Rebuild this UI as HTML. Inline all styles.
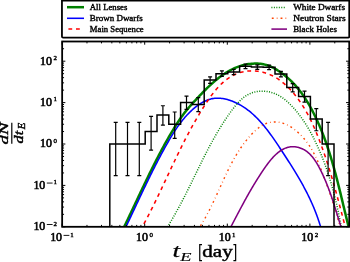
<!DOCTYPE html>
<html><head><meta charset="utf-8"><style>
html,body{margin:0;padding:0;background:#fff;}
body{width:350px;height:262px;position:relative;overflow:hidden;}
svg{position:absolute;left:0;top:0;will-change:transform;}
text{font-family:"Liberation Serif",serif;fill:#000;}
.tk{font-size:11.5px;font-weight:normal;stroke:#000;stroke-width:0.6px;}
.sp{font-size:6.9px;font-weight:normal;stroke:#000;stroke-width:0.4px;}
.lg{font-size:8.8px;font-weight:normal;stroke:#000;stroke-width:0.4px;}
.ml{font-size:13px;font-weight:bold;font-style:italic;}
.yl{font-size:13.5px;font-style:italic;stroke:#000;stroke-width:0.45px;}
.sub{font-size:8px;}
.xl{font-size:18.8px;stroke-width:0.25px;}
.xsub{font-size:13.5px;stroke-width:0.2px;}
.xb{font-size:17px;font-weight:normal;stroke:#000;stroke-width:0.45px;}
</style></head><body>
<svg width="350" height="262" viewBox="0 0 350 262">
<defs><clipPath id="pc"><rect x="62.15" y="41.5" width="287.10" height="185.30"/></clipPath></defs>
<g clip-path="url(#pc)">
<path d="M118.71,237.89 L119.38,236.56 L120.05,235.22 L120.71,233.89 L121.37,232.56 L122.03,231.22 L122.68,229.89 L123.34,228.55 L123.99,227.22 L124.64,225.88 L125.29,224.54 L125.93,223.20 L126.58,221.86 L127.22,220.53 L127.86,219.19 L128.50,217.85 L129.14,216.51 L129.78,215.16 L130.42,213.82 L131.06,212.48 L131.69,211.14 L132.33,209.80 L132.96,208.46 L133.60,207.12 L134.23,205.78 L134.86,204.43 L135.49,203.09 L136.13,201.75 L136.76,200.41 L137.39,199.07 L138.03,197.73 L138.66,196.39 L139.29,195.05 L139.92,193.71 L140.56,192.37 L141.19,191.03 L141.83,189.69 L142.47,188.35 L143.10,187.01 L143.74,185.67 L144.38,184.34 L145.02,183.00 L145.66,181.67 L146.30,180.33 L146.95,179.00 L147.59,177.67 L148.24,176.33 L148.89,175.00 L149.54,173.67 L150.20,172.34 L150.85,171.01 L151.51,169.69 L152.17,168.36 L152.83,167.04 L153.49,165.71 L154.16,164.39 L154.83,163.07 L155.50,161.75 L156.18,160.43 L156.85,159.11 L157.53,157.79 L158.22,156.48 L158.90,155.17 L159.59,153.85 L160.29,152.54 L160.98,151.24 L161.68,149.93 L162.39,148.62 L163.10,147.32 L163.81,146.02 L164.52,144.72 L165.24,143.42 L165.96,142.12 L166.69,140.83 L167.42,139.54 L168.16,138.25 L168.90,136.96 L169.65,135.67 L170.40,134.39 L171.15,133.11 L171.91,131.83 L172.68,130.55 L173.45,129.28 L174.22,128.01 L175.00,126.74 L175.79,125.48 L176.59,124.22 L177.40,122.97 L178.21,121.73 L179.03,120.50 L179.86,119.27 L180.70,118.06 L181.55,116.85 L182.41,115.66 L183.28,114.47 L184.16,113.30 L185.06,112.14 L185.97,110.99 L186.89,109.86 L187.82,108.74 L188.76,107.63 L189.71,106.53 L190.68,105.44 L191.65,104.35 L192.63,103.27 L193.62,102.19 L194.61,101.11 L195.61,100.03 L196.62,98.95 L197.63,97.87 L198.65,96.78 L199.67,95.70 L200.70,94.62 L201.74,93.54 L202.78,92.46 L203.83,91.38 L204.89,90.31 L205.95,89.25 L207.03,88.20 L208.11,87.15 L209.20,86.11 L210.29,85.08 L211.40,84.07 L212.51,83.06 L213.64,82.07 L214.77,81.09 L215.92,80.13 L217.07,79.19 L218.24,78.26 L219.41,77.35 L220.60,76.46 L221.80,75.59 L223.01,74.75 L224.23,73.92 L225.46,73.12 L226.71,72.34 L227.97,71.59 L229.24,70.87 L230.53,70.17 L231.83,69.50 L233.14,68.86 L234.47,68.25 L235.81,67.68 L237.16,67.14 L238.54,66.63 L239.92,66.15 L241.32,65.71 L242.74,65.31 L244.17,64.95 L245.62,64.62 L247.09,64.34 L248.56,64.09 L250.05,63.89 L251.54,63.74 L253.04,63.63 L254.54,63.57 L256.04,63.56 L257.53,63.60 L259.02,63.69 L260.50,63.84 L261.97,64.04 L263.42,64.30 L264.86,64.62 L266.28,65.00 L267.68,65.44 L269.06,65.93 L270.42,66.48 L271.77,67.08 L273.09,67.73 L274.39,68.41 L275.68,69.14 L276.95,69.91 L278.21,70.70 L279.45,71.53 L280.67,72.38 L281.88,73.25 L283.08,74.14 L284.26,75.06 L285.42,75.99 L286.57,76.94 L287.71,77.92 L288.82,78.91 L289.92,79.91 L291.00,80.94 L292.07,81.98 L293.11,83.04 L294.14,84.12 L295.15,85.21 L296.14,86.32 L297.10,87.44 L298.05,88.58 L298.98,89.73 L299.90,90.89 L300.79,92.07 L301.67,93.26 L302.53,94.46 L303.38,95.68 L304.20,96.90 L305.02,98.13 L305.82,99.38 L306.60,100.63 L307.37,101.89 L308.13,103.16 L308.88,104.44 L309.61,105.72 L310.33,107.01 L311.04,108.31 L311.74,109.61 L312.43,110.92 L313.11,112.23 L313.78,113.55 L314.44,114.87 L315.09,116.19 L315.73,117.52 L316.37,118.86 L316.99,120.20 L317.60,121.54 L318.21,122.89 L318.81,124.24 L319.40,125.59 L319.98,126.95 L320.55,128.32 L321.11,129.68 L321.67,131.05 L322.22,132.43 L322.76,133.80 L323.29,135.18 L323.82,136.57 L324.34,137.95 L324.85,139.34 L325.35,140.73 L325.85,142.13 L326.34,143.53 L326.83,144.93 L327.31,146.33 L327.78,147.74 L328.25,149.15 L328.71,150.56 L329.17,151.97 L329.62,153.39 L330.06,154.81 L330.50,156.23 L330.93,157.65 L331.36,159.08 L331.79,160.50 L332.21,161.93 L332.62,163.36 L333.03,164.79 L333.44,166.22 L333.84,167.66 L334.24,169.09 L334.63,170.53 L335.03,171.97 L335.41,173.41 L335.80,174.85 L336.18,176.29 L336.55,177.73 L336.93,179.17 L337.30,180.61 L337.67,182.06 L338.04,183.50 L338.40,184.95 L338.76,186.39 L339.12,187.84 L339.48,189.28 L339.84,190.73 L340.19,192.17 L340.55,193.62 L340.90,195.07 L341.25,196.51 L341.60,197.96 L341.94,199.40 L342.29,200.84 L342.64,202.29 L342.99,203.73 L343.33,205.17 L343.68,206.61 L344.02,208.06 L344.37,209.49 L344.72,210.93 L345.06,212.37 L345.41,213.81 L345.76,215.24 L346.11,216.67 L346.46,218.11 L346.81,219.54 L347.16,220.97 L347.51,222.39 L347.87,223.82 L348.22,225.24 L348.58,226.66 L348.94,228.08 L349.30,229.50 L349.67,230.91 L350.03,232.33 L350.40,233.74 L350.77,235.14 L351.15,236.55 L351.53,237.95 L351.91,239.35" fill="none" stroke="#008000" stroke-width="2.5"/>
<path d="M121.73,235.75 L122.25,234.67 L122.77,233.59 L123.29,232.51 L123.80,231.43 L124.32,230.35 L124.84,229.27 L125.35,228.19 L125.86,227.11 L126.38,226.03 L126.89,224.95 L127.40,223.87 L127.91,222.79 L128.42,221.72 L128.93,220.64 L129.43,219.56 L129.94,218.48 L130.45,217.41 L130.95,216.33 L131.46,215.25 L131.96,214.18 L132.47,213.10 L132.97,212.03 L133.48,210.95 L133.98,209.88 L134.49,208.80 L134.99,207.73 L135.49,206.66 L136.00,205.58 L136.50,204.51 L137.00,203.44 L137.51,202.37 L138.01,201.30 L138.52,200.23 L139.02,199.16 L139.53,198.09 L140.03,197.02 L140.54,195.95 L141.04,194.88 L141.55,193.81 L142.05,192.74 L142.56,191.68 L143.07,190.61 L143.58,189.54 L144.09,188.48 L144.60,187.41 L145.11,186.35 L145.62,185.29 L146.13,184.22 L146.65,183.16 L147.16,182.10 L147.68,181.04 L148.20,179.98 L148.71,178.92 L149.23,177.86 L149.75,176.80 L150.27,175.74 L150.80,174.68 L151.32,173.62 L151.85,172.57 L152.38,171.51 L152.90,170.46 L153.43,169.40 L153.97,168.35 L154.50,167.30 L155.04,166.25 L155.57,165.20 L156.11,164.15 L156.65,163.10 L157.20,162.05 L157.74,161.00 L158.29,159.95 L158.84,158.91 L159.39,157.86 L159.94,156.82 L160.49,155.77 L161.05,154.73 L161.61,153.69 L162.17,152.64 L162.74,151.60 L163.30,150.56 L163.87,149.53 L164.45,148.49 L165.02,147.45 L165.60,146.42 L166.18,145.38 L166.76,144.35 L167.34,143.31 L167.93,142.28 L168.52,141.25 L169.12,140.22 L169.72,139.20 L170.32,138.17 L170.93,137.15 L171.55,136.13 L172.16,135.12 L172.79,134.11 L173.42,133.10 L174.06,132.09 L174.70,131.10 L175.35,130.10 L176.01,129.11 L176.68,128.13 L177.35,127.15 L178.03,126.18 L178.72,125.21 L179.42,124.25 L180.13,123.30 L180.85,122.35 L181.58,121.41 L182.32,120.48 L183.07,119.56 L183.83,118.64 L184.60,117.74 L185.39,116.84 L186.18,115.95 L186.99,115.07 L187.81,114.20 L188.64,113.34 L189.49,112.49 L190.35,111.65 L191.22,110.82 L192.11,110.01 L193.02,109.20 L193.93,108.41 L194.86,107.64 L195.80,106.88 L196.76,106.15 L197.73,105.44 L198.71,104.74 L199.70,104.08 L200.70,103.44 L201.72,102.83 L202.75,102.25 L203.79,101.69 L204.84,101.18 L205.90,100.70 L206.97,100.25 L208.05,99.84 L209.14,99.47 L210.24,99.15 L211.35,98.86 L212.47,98.63 L213.59,98.43 L214.73,98.29 L215.87,98.20 L217.03,98.15 L218.18,98.15 L219.34,98.20 L220.51,98.29 L221.67,98.42 L222.84,98.59 L224.00,98.79 L225.17,99.03 L226.32,99.30 L227.47,99.61 L228.62,99.94 L229.75,100.30 L230.88,100.69 L231.99,101.10 L233.09,101.53 L234.18,101.98 L235.26,102.45 L236.32,102.94 L237.37,103.45 L238.41,103.99 L239.44,104.53 L240.46,105.10 L241.46,105.69 L242.45,106.29 L243.43,106.91 L244.40,107.55 L245.36,108.21 L246.31,108.88 L247.25,109.56 L248.18,110.27 L249.10,110.98 L250.01,111.72 L250.90,112.46 L251.79,113.22 L252.67,114.00 L253.54,114.78 L254.41,115.58 L255.26,116.40 L256.10,117.22 L256.94,118.06 L257.77,118.90 L258.59,119.76 L259.40,120.63 L260.20,121.51 L261.00,122.40 L261.79,123.30 L262.57,124.21 L263.35,125.12 L264.11,126.05 L264.88,126.98 L265.63,127.92 L266.38,128.86 L267.12,129.82 L267.86,130.78 L268.59,131.74 L269.32,132.71 L270.04,133.69 L270.76,134.67 L271.47,135.66 L272.18,136.65 L272.88,137.64 L273.58,138.64 L274.27,139.64 L274.96,140.64 L275.65,141.65 L276.33,142.65 L277.01,143.66 L277.68,144.67 L278.36,145.68 L279.02,146.69 L279.69,147.70 L280.36,148.71 L281.02,149.72 L281.68,150.72 L282.34,151.73 L282.99,152.73 L283.65,153.74 L284.30,154.74 L284.95,155.74 L285.60,156.74 L286.25,157.73 L286.89,158.73 L287.53,159.72 L288.17,160.72 L288.81,161.71 L289.44,162.71 L290.07,163.70 L290.70,164.69 L291.33,165.69 L291.95,166.68 L292.57,167.67 L293.19,168.67 L293.81,169.66 L294.42,170.65 L295.03,171.65 L295.63,172.65 L296.23,173.64 L296.83,174.64 L297.43,175.64 L298.02,176.64 L298.61,177.64 L299.20,178.65 L299.78,179.65 L300.36,180.66 L300.93,181.67 L301.50,182.68 L302.07,183.69 L302.63,184.71 L303.19,185.73 L303.74,186.75 L304.29,187.77 L304.84,188.80 L305.38,189.83 L305.92,190.86 L306.45,191.89 L306.98,192.93 L307.51,193.98 L308.03,195.02 L308.54,196.07 L309.05,197.13 L309.56,198.19 L310.06,199.25 L310.56,200.31 L311.05,201.39 L311.53,202.46 L312.02,203.54 L312.49,204.63 L312.96,205.72 L313.43,206.81 L313.89,207.91 L314.34,209.02 L314.79,210.13 L315.24,211.25 L315.67,212.37 L316.11,213.50 L316.53,214.63 L316.95,215.77 L317.37,216.92 L317.78,218.07 L318.18,219.23 L318.58,220.39 L318.97,221.57 L319.35,222.75 L319.73,223.93 L320.10,225.13 L320.47,226.33 L320.83,227.53 L321.18,228.75 L321.53,229.97 L321.87,231.20 L322.20,232.44 L322.52,233.69 L322.84,234.95 L323.16,236.21" fill="none" stroke="#0000ff" stroke-width="1.55"/>
<path d="M136.45,237.11 L137.18,235.85 L137.90,234.60 L138.62,233.34 L139.34,232.09 L140.04,230.84 L140.75,229.58 L141.44,228.33 L142.14,227.08 L142.82,225.82 L143.50,224.57 L144.18,223.32 L144.85,222.06 L145.52,220.81 L146.19,219.56 L146.85,218.31 L147.50,217.05 L148.15,215.80 L148.80,214.55 L149.44,213.30 L150.08,212.05 L150.72,210.80 L151.35,209.55 L151.98,208.30 L152.60,207.05 L153.22,205.80 L153.84,204.55 L154.46,203.30 L155.07,202.05 L155.69,200.80 L156.29,199.55 L156.90,198.30 L157.51,197.05 L158.11,195.81 L158.71,194.56 L159.31,193.31 L159.90,192.06 L160.50,190.82 L161.09,189.57 L161.68,188.32 L162.27,187.08 L162.86,185.83 L163.45,184.58 L164.04,183.34 L164.62,182.09 L165.21,180.85 L165.79,179.60 L166.38,178.36 L166.96,177.12 L167.55,175.87 L168.13,174.63 L168.72,173.39 L169.30,172.14 L169.88,170.90 L170.47,169.66 L171.06,168.42 L171.64,167.18 L172.23,165.93 L172.82,164.69 L173.41,163.45 L174.00,162.21 L174.59,160.97 L175.18,159.73 L175.78,158.50 L176.37,157.26 L176.97,156.02 L177.57,154.78 L178.17,153.54 L178.78,152.31 L179.38,151.07 L179.99,149.83 L180.60,148.60 L181.21,147.36 L181.83,146.12 L182.45,144.89 L183.07,143.65 L183.70,142.42 L184.33,141.19 L184.96,139.95 L185.59,138.72 L186.23,137.49 L186.88,136.25 L187.52,135.02 L188.17,133.79 L188.83,132.56 L189.49,131.33 L190.15,130.10 L190.82,128.87 L191.49,127.64 L192.17,126.41 L192.85,125.18 L193.53,123.95 L194.22,122.72 L194.92,121.50 L195.62,120.27 L196.33,119.04 L197.04,117.82 L197.76,116.59 L198.49,115.37 L199.22,114.14 L199.95,112.92 L200.70,111.69 L201.45,110.47 L202.20,109.25 L202.96,108.03 L203.73,106.80 L204.51,105.58 L205.29,104.37 L206.08,103.16 L206.88,101.95 L207.69,100.75 L208.50,99.55 L209.33,98.37 L210.16,97.19 L211.00,96.03 L211.86,94.88 L212.72,93.74 L213.59,92.62 L214.48,91.51 L215.38,90.42 L216.29,89.34 L217.21,88.29 L218.14,87.26 L219.08,86.24 L220.04,85.25 L221.01,84.29 L222.00,83.34 L223.00,82.43 L224.01,81.54 L225.04,80.68 L226.08,79.85 L227.14,79.05 L228.22,78.28 L229.30,77.54 L230.41,76.84 L231.53,76.17 L232.67,75.54 L233.83,74.95 L235.01,74.39 L236.20,73.88 L237.41,73.40 L238.64,72.97 L239.88,72.58 L241.14,72.23 L242.41,71.92 L243.70,71.65 L245.00,71.42 L246.30,71.23 L247.62,71.08 L248.94,70.98 L250.27,70.91 L251.60,70.88 L252.93,70.89 L254.27,70.95 L255.60,71.04 L256.94,71.17 L258.27,71.34 L259.60,71.55 L260.93,71.79 L262.25,72.08 L263.56,72.41 L264.86,72.77 L266.15,73.17 L267.43,73.62 L268.70,74.09 L269.95,74.61 L271.19,75.17 L272.41,75.76 L273.62,76.38 L274.82,77.04 L276.00,77.73 L277.17,78.46 L278.32,79.21 L279.46,80.00 L280.58,80.81 L281.69,81.65 L282.79,82.52 L283.87,83.41 L284.93,84.33 L285.98,85.28 L287.02,86.24 L288.04,87.23 L289.05,88.24 L290.04,89.27 L291.02,90.32 L291.98,91.38 L292.93,92.47 L293.86,93.56 L294.78,94.68 L295.68,95.81 L296.57,96.95 L297.44,98.10 L298.30,99.26 L299.14,100.44 L299.97,101.62 L300.78,102.81 L301.58,104.00 L302.36,105.21 L303.13,106.42 L303.88,107.63 L304.61,108.84 L305.33,110.06 L306.04,111.29 L306.73,112.51 L307.41,113.74 L308.08,114.98 L308.74,116.21 L309.38,117.45 L310.01,118.70 L310.63,119.94 L311.24,121.19 L311.84,122.45 L312.43,123.70 L313.00,124.96 L313.57,126.22 L314.14,127.48 L314.69,128.75 L315.23,130.02 L315.77,131.29 L316.30,132.56 L316.83,133.84 L317.34,135.12 L317.85,136.40 L318.36,137.68 L318.86,138.96 L319.36,140.25 L319.85,141.54 L320.34,142.83 L320.82,144.12 L321.30,145.41 L321.77,146.70 L322.24,148.00 L322.71,149.30 L323.17,150.60 L323.63,151.90 L324.08,153.20 L324.53,154.51 L324.98,155.81 L325.42,157.12 L325.86,158.43 L326.29,159.74 L326.73,161.05 L327.15,162.37 L327.58,163.68 L328.00,165.00 L328.42,166.32 L328.84,167.64 L329.25,168.96 L329.66,170.28 L330.06,171.60 L330.47,172.93 L330.87,174.25 L331.27,175.58 L331.66,176.90 L332.06,178.23 L332.45,179.56 L332.84,180.89 L333.22,182.23 L333.61,183.56 L333.99,184.89 L334.37,186.23 L334.75,187.56 L335.12,188.90 L335.50,190.24 L335.87,191.57 L336.24,192.91 L336.61,194.25 L336.98,195.59 L337.34,196.94 L337.71,198.28 L338.07,199.62 L338.43,200.96 L338.79,202.31 L339.15,203.65 L339.51,205.00 L339.87,206.34 L340.23,207.69 L340.59,209.04 L340.94,210.38 L341.30,211.73 L341.65,213.08 L342.00,214.43 L342.36,215.78 L342.71,217.13 L343.06,218.48 L343.42,219.83 L343.77,221.18 L344.12,222.53 L344.48,223.88 L344.83,225.23 L345.18,226.58 L345.53,227.93 L345.89,229.28 L346.24,230.63 L346.60,231.99 L346.95,233.34 L347.31,234.69 L347.66,236.04 L348.02,237.39 L348.38,238.74" fill="none" stroke="#ff0000" stroke-width="1.55" stroke-dasharray="3.8,3.8"/>
<path d="M161.90,235.26 L162.59,234.25 L163.28,233.25 L163.96,232.24 L164.63,231.23 L165.29,230.21 L165.95,229.20 L166.61,228.18 L167.26,227.17 L167.90,226.15 L168.54,225.13 L169.18,224.11 L169.80,223.08 L170.43,222.06 L171.05,221.03 L171.66,220.01 L172.27,218.98 L172.88,217.95 L173.48,216.92 L174.07,215.88 L174.67,214.85 L175.26,213.82 L175.84,212.78 L176.42,211.74 L177.00,210.71 L177.57,209.67 L178.14,208.63 L178.71,207.59 L179.27,206.54 L179.83,205.50 L180.39,204.46 L180.94,203.41 L181.49,202.37 L182.04,201.32 L182.59,200.27 L183.13,199.23 L183.67,198.18 L184.21,197.13 L184.74,196.08 L185.28,195.03 L185.81,193.98 L186.34,192.93 L186.87,191.88 L187.39,190.82 L187.92,189.77 L188.44,188.72 L188.96,187.67 L189.48,186.61 L190.00,185.56 L190.52,184.51 L191.04,183.45 L191.55,182.40 L192.07,181.34 L192.58,180.29 L193.10,179.23 L193.61,178.18 L194.13,177.12 L194.64,176.07 L195.15,175.01 L195.67,173.96 L196.18,172.91 L196.70,171.85 L197.21,170.80 L197.72,169.74 L198.24,168.69 L198.76,167.64 L199.27,166.58 L199.79,165.53 L200.31,164.48 L200.83,163.43 L201.35,162.38 L201.87,161.32 L202.39,160.27 L202.92,159.22 L203.44,158.18 L203.97,157.13 L204.50,156.08 L205.03,155.03 L205.57,153.98 L206.10,152.94 L206.64,151.89 L207.18,150.85 L207.72,149.81 L208.27,148.76 L208.82,147.72 L209.37,146.68 L209.92,145.64 L210.48,144.60 L211.04,143.57 L211.60,142.53 L212.17,141.49 L212.74,140.46 L213.31,139.43 L213.89,138.39 L214.47,137.36 L215.06,136.33 L215.64,135.31 L216.24,134.28 L216.83,133.25 L217.44,132.23 L218.04,131.21 L218.65,130.19 L219.27,129.17 L219.88,128.15 L220.51,127.13 L221.14,126.12 L221.77,125.11 L222.41,124.09 L223.06,123.08 L223.70,122.08 L224.36,121.07 L225.02,120.07 L225.69,119.06 L226.36,118.06 L227.04,117.06 L227.72,116.07 L228.41,115.07 L229.11,114.08 L229.81,113.09 L230.52,112.10 L231.23,111.11 L231.96,110.13 L232.69,109.16 L233.43,108.20 L234.18,107.24 L234.94,106.30 L235.71,105.37 L236.49,104.46 L237.28,103.56 L238.08,102.68 L238.90,101.83 L239.72,100.99 L240.57,100.18 L241.42,99.39 L242.29,98.63 L243.18,97.89 L244.08,97.19 L245.00,96.52 L245.93,95.88 L246.88,95.28 L247.85,94.72 L248.84,94.19 L249.85,93.70 L250.88,93.26 L251.92,92.85 L252.99,92.49 L254.07,92.18 L255.17,91.90 L256.28,91.67 L257.40,91.48 L258.53,91.33 L259.67,91.22 L260.82,91.16 L261.97,91.13 L263.12,91.15 L264.28,91.20 L265.43,91.30 L266.58,91.43 L267.73,91.61 L268.88,91.82 L270.02,92.08 L271.14,92.37 L272.26,92.70 L273.37,93.07 L274.46,93.47 L275.54,93.92 L276.60,94.40 L277.65,94.91 L278.69,95.46 L279.71,96.04 L280.71,96.65 L281.70,97.29 L282.68,97.96 L283.65,98.65 L284.60,99.37 L285.54,100.12 L286.46,100.88 L287.37,101.67 L288.27,102.48 L289.15,103.31 L290.03,104.15 L290.88,105.02 L291.73,105.89 L292.57,106.78 L293.39,107.68 L294.20,108.60 L294.99,109.52 L295.78,110.45 L296.55,111.39 L297.32,112.33 L298.07,113.28 L298.80,114.24 L299.53,115.19 L300.25,116.15 L300.95,117.11 L301.65,118.08 L302.33,119.05 L303.01,120.02 L303.67,121.00 L304.33,121.98 L304.97,122.96 L305.61,123.95 L306.23,124.94 L306.85,125.93 L307.46,126.93 L308.06,127.93 L308.65,128.93 L309.24,129.94 L309.81,130.95 L310.38,131.97 L310.94,132.98 L311.50,134.01 L312.04,135.03 L312.58,136.06 L313.12,137.09 L313.65,138.12 L314.17,139.16 L314.69,140.20 L315.20,141.25 L315.70,142.30 L316.20,143.35 L316.70,144.40 L317.19,145.46 L317.67,146.52 L318.15,147.59 L318.63,148.66 L319.10,149.73 L319.56,150.80 L320.02,151.88 L320.48,152.96 L320.93,154.04 L321.37,155.13 L321.81,156.21 L322.25,157.31 L322.68,158.40 L323.11,159.50 L323.53,160.59 L323.95,161.70 L324.36,162.80 L324.77,163.90 L325.17,165.01 L325.57,166.12 L325.97,167.23 L326.36,168.35 L326.74,169.47 L327.12,170.58 L327.50,171.70 L327.87,172.83 L328.24,173.95 L328.61,175.08 L328.97,176.20 L329.33,177.33 L329.68,178.46 L330.03,179.59 L330.37,180.73 L330.71,181.86 L331.05,183.00 L331.38,184.14 L331.71,185.27 L332.03,186.41 L332.35,187.55 L332.67,188.70 L332.98,189.84 L333.29,190.98 L333.59,192.13 L333.90,193.27 L334.19,194.42 L334.49,195.57 L334.78,196.71 L335.07,197.86 L335.35,199.01 L335.63,200.16 L335.91,201.31 L336.18,202.46 L336.45,203.61 L336.71,204.76 L336.98,205.91 L337.24,207.06 L337.49,208.21 L337.75,209.36 L338.00,210.51 L338.24,211.66 L338.49,212.81 L338.73,213.96 L338.96,215.11 L339.20,216.26 L339.43,217.41 L339.66,218.56 L339.88,219.71 L340.10,220.86 L340.32,222.00 L340.54,223.15 L340.75,224.29 L340.96,225.44 L341.17,226.58 L341.37,227.72 L341.58,228.87 L341.78,230.01 L341.97,231.15 L342.17,232.28" fill="none" stroke="#008000" stroke-width="1.5" stroke-dasharray="1.0,1.47"/>
<path d="M195.42,233.05 L195.96,232.32 L196.50,231.58 L197.03,230.84 L197.56,230.10 L198.08,229.35 L198.60,228.60 L199.11,227.85 L199.61,227.09 L200.11,226.33 L200.61,225.56 L201.10,224.80 L201.58,224.03 L202.06,223.25 L202.54,222.47 L203.01,221.69 L203.47,220.91 L203.94,220.12 L204.39,219.34 L204.85,218.54 L205.30,217.75 L205.75,216.95 L206.19,216.15 L206.63,215.35 L207.06,214.55 L207.49,213.74 L207.92,212.93 L208.35,212.12 L208.77,211.31 L209.19,210.49 L209.61,209.68 L210.02,208.86 L210.43,208.04 L210.84,207.22 L211.24,206.39 L211.65,205.57 L212.05,204.74 L212.45,203.91 L212.85,203.08 L213.24,202.25 L213.64,201.42 L214.03,200.58 L214.42,199.75 L214.81,198.91 L215.20,198.08 L215.58,197.24 L215.97,196.40 L216.35,195.56 L216.74,194.72 L217.12,193.88 L217.50,193.04 L217.88,192.20 L218.26,191.35 L218.64,190.51 L219.02,189.67 L219.40,188.83 L219.79,187.98 L220.17,187.14 L220.55,186.30 L220.93,185.46 L221.31,184.61 L221.69,183.77 L222.07,182.93 L222.46,182.09 L222.84,181.25 L223.23,180.41 L223.61,179.57 L224.00,178.73 L224.39,177.89 L224.78,177.05 L225.17,176.21 L225.56,175.38 L225.96,174.54 L226.36,173.71 L226.75,172.88 L227.16,172.04 L227.56,171.21 L227.96,170.38 L228.37,169.56 L228.78,168.73 L229.20,167.91 L229.61,167.08 L230.03,166.26 L230.45,165.44 L230.88,164.63 L231.30,163.81 L231.73,163.00 L232.17,162.19 L232.61,161.38 L233.05,160.57 L233.49,159.76 L233.94,158.96 L234.40,158.16 L234.85,157.36 L235.31,156.57 L235.78,155.78 L236.25,154.99 L236.72,154.20 L237.20,153.42 L237.69,152.64 L238.18,151.86 L238.67,151.08 L239.17,150.31 L239.67,149.54 L240.18,148.78 L240.69,148.01 L241.21,147.26 L241.74,146.50 L242.27,145.75 L242.81,145.00 L243.35,144.26 L243.90,143.52 L244.45,142.78 L245.02,142.05 L245.58,141.32 L246.16,140.59 L246.74,139.87 L247.33,139.16 L247.92,138.44 L248.52,137.74 L249.13,137.03 L249.74,136.33 L250.37,135.64 L251.00,134.95 L251.63,134.26 L252.28,133.58 L252.93,132.91 L253.59,132.25 L254.26,131.59 L254.94,130.95 L255.62,130.32 L256.31,129.70 L257.02,129.10 L257.73,128.51 L258.45,127.94 L259.18,127.39 L259.91,126.86 L260.66,126.35 L261.42,125.87 L262.18,125.40 L262.96,124.97 L263.75,124.56 L264.54,124.18 L265.35,123.83 L266.16,123.51 L266.99,123.21 L267.82,122.95 L268.66,122.72 L269.51,122.52 L270.36,122.35 L271.22,122.21 L272.09,122.10 L272.96,122.02 L273.83,121.96 L274.70,121.94 L275.57,121.95 L276.45,121.99 L277.32,122.05 L278.20,122.15 L279.07,122.28 L279.94,122.43 L280.81,122.62 L281.67,122.83 L282.53,123.07 L283.39,123.35 L284.24,123.64 L285.08,123.97 L285.92,124.32 L286.76,124.70 L287.58,125.10 L288.40,125.52 L289.22,125.97 L290.03,126.43 L290.83,126.92 L291.62,127.43 L292.41,127.95 L293.19,128.50 L293.96,129.06 L294.72,129.64 L295.47,130.23 L296.21,130.84 L296.95,131.47 L297.67,132.10 L298.39,132.75 L299.09,133.41 L299.79,134.08 L300.47,134.77 L301.15,135.46 L301.81,136.15 L302.46,136.86 L303.10,137.57 L303.73,138.29 L304.34,139.01 L304.95,139.74 L305.54,140.47 L306.12,141.21 L306.68,141.95 L307.24,142.70 L307.79,143.45 L308.33,144.20 L308.85,144.96 L309.37,145.72 L309.87,146.49 L310.37,147.26 L310.86,148.04 L311.33,148.82 L311.80,149.60 L312.26,150.38 L312.72,151.17 L313.16,151.97 L313.60,152.76 L314.03,153.56 L314.45,154.37 L314.86,155.17 L315.27,155.98 L315.67,156.79 L316.07,157.61 L316.46,158.43 L316.84,159.25 L317.22,160.07 L317.59,160.90 L317.95,161.73 L318.32,162.56 L318.67,163.39 L319.03,164.22 L319.37,165.06 L319.72,165.90 L320.06,166.74 L320.40,167.59 L320.73,168.43 L321.06,169.28 L321.39,170.13 L321.72,170.98 L322.04,171.83 L322.37,172.69 L322.69,173.54 L323.01,174.40 L323.32,175.26 L323.64,176.12 L323.96,176.98 L324.27,177.84 L324.59,178.70 L324.90,179.56 L325.22,180.43 L325.54,181.29 L325.85,182.16 L326.17,183.02 L326.48,183.89 L326.80,184.76 L327.11,185.62 L327.42,186.49 L327.73,187.36 L328.05,188.23 L328.36,189.10 L328.67,189.98 L328.97,190.85 L329.28,191.72 L329.59,192.59 L329.89,193.47 L330.20,194.34 L330.50,195.22 L330.80,196.09 L331.10,196.97 L331.40,197.84 L331.69,198.72 L331.99,199.59 L332.28,200.47 L332.57,201.35 L332.86,202.23 L333.14,203.11 L333.43,203.98 L333.71,204.86 L333.99,205.74 L334.27,206.62 L334.54,207.50 L334.81,208.38 L335.08,209.26 L335.35,210.14 L335.61,211.02 L335.87,211.90 L336.13,212.78 L336.39,213.66 L336.64,214.54 L336.89,215.42 L337.13,216.30 L337.37,217.18 L337.61,218.06 L337.85,218.94 L338.08,219.82 L338.31,220.70 L338.53,221.58 L338.75,222.46 L338.97,223.34 L339.18,224.22 L339.39,225.10 L339.59,225.98 L339.79,226.86 L339.99,227.74 L340.18,228.62 L340.37,229.50" fill="none" stroke="#ff4500" stroke-width="1.4" stroke-dasharray="1.86,3.1,0.7,3.1"/>
<path d="M228.53,231.31 L228.91,230.59 L229.29,229.88 L229.66,229.17 L230.03,228.46 L230.40,227.76 L230.77,227.06 L231.13,226.37 L231.50,225.67 L231.86,224.99 L232.22,224.30 L232.58,223.62 L232.93,222.94 L233.29,222.26 L233.64,221.58 L234.00,220.91 L234.35,220.24 L234.69,219.58 L235.04,218.92 L235.39,218.25 L235.73,217.60 L236.08,216.94 L236.42,216.29 L236.76,215.64 L237.10,214.99 L237.44,214.34 L237.78,213.70 L238.12,213.06 L238.46,212.42 L238.80,211.78 L239.13,211.14 L239.47,210.51 L239.80,209.88 L240.14,209.25 L240.47,208.62 L240.81,208.00 L241.14,207.37 L241.47,206.75 L241.80,206.13 L242.14,205.51 L242.47,204.89 L242.80,204.27 L243.14,203.66 L243.47,203.04 L243.80,202.43 L244.13,201.82 L244.47,201.21 L244.80,200.60 L245.13,199.99 L245.47,199.38 L245.80,198.77 L246.14,198.17 L246.47,197.56 L246.81,196.96 L247.15,196.35 L247.49,195.75 L247.83,195.15 L248.17,194.55 L248.51,193.95 L248.85,193.34 L249.19,192.74 L249.53,192.14 L249.88,191.54 L250.22,190.94 L250.57,190.34 L250.92,189.74 L251.27,189.14 L251.62,188.55 L251.98,187.95 L252.33,187.35 L252.69,186.75 L253.04,186.15 L253.40,185.55 L253.76,184.94 L254.13,184.34 L254.49,183.74 L254.86,183.14 L255.23,182.54 L255.60,181.93 L255.97,181.33 L256.35,180.72 L256.72,180.12 L257.10,179.51 L257.49,178.91 L257.87,178.30 L258.26,177.69 L258.65,177.08 L259.04,176.47 L259.43,175.85 L259.83,175.24 L260.23,174.62 L260.63,174.01 L261.04,173.39 L261.45,172.77 L261.86,172.15 L262.27,171.53 L262.69,170.90 L263.11,170.28 L263.54,169.65 L263.96,169.03 L264.39,168.40 L264.83,167.78 L265.26,167.15 L265.70,166.53 L266.15,165.91 L266.59,165.29 L267.05,164.67 L267.50,164.06 L267.96,163.45 L268.42,162.84 L268.89,162.24 L269.36,161.64 L269.83,161.05 L270.31,160.46 L270.79,159.88 L271.27,159.31 L271.76,158.74 L272.25,158.18 L272.75,157.63 L273.25,157.09 L273.76,156.56 L274.27,156.03 L274.78,155.52 L275.30,155.01 L275.83,154.52 L276.36,154.03 L276.89,153.56 L277.42,153.10 L277.97,152.65 L278.51,152.22 L279.06,151.79 L279.62,151.38 L280.18,150.99 L280.75,150.61 L281.32,150.24 L281.89,149.89 L282.47,149.56 L283.06,149.24 L283.65,148.94 L284.25,148.65 L284.85,148.38 L285.45,148.13 L286.06,147.90 L286.68,147.69 L287.30,147.49 L287.93,147.32 L288.57,147.16 L289.21,147.03 L289.85,146.92 L290.50,146.83 L291.16,146.76 L291.82,146.71 L292.49,146.68 L293.16,146.68 L293.84,146.70 L294.52,146.75 L295.21,146.81 L295.90,146.90 L296.59,147.02 L297.28,147.15 L297.97,147.31 L298.66,147.48 L299.35,147.68 L300.03,147.90 L300.71,148.15 L301.38,148.41 L302.05,148.69 L302.71,148.99 L303.36,149.32 L303.99,149.66 L304.62,150.02 L305.24,150.40 L305.84,150.80 L306.44,151.22 L307.02,151.66 L307.59,152.11 L308.15,152.57 L308.70,153.06 L309.24,153.55 L309.77,154.06 L310.29,154.58 L310.80,155.12 L311.29,155.66 L311.78,156.22 L312.26,156.78 L312.73,157.36 L313.19,157.94 L313.64,158.53 L314.08,159.12 L314.51,159.73 L314.93,160.33 L315.34,160.95 L315.75,161.56 L316.15,162.18 L316.54,162.80 L316.92,163.43 L317.29,164.06 L317.66,164.69 L318.02,165.33 L318.38,165.96 L318.73,166.60 L319.07,167.24 L319.41,167.89 L319.75,168.53 L320.08,169.17 L320.41,169.82 L320.73,170.47 L321.05,171.11 L321.37,171.76 L321.69,172.41 L322.00,173.06 L322.31,173.71 L322.61,174.36 L322.92,175.01 L323.22,175.66 L323.51,176.31 L323.81,176.96 L324.10,177.62 L324.39,178.27 L324.67,178.93 L324.95,179.58 L325.24,180.24 L325.51,180.89 L325.79,181.55 L326.06,182.21 L326.33,182.87 L326.60,183.52 L326.87,184.18 L327.13,184.84 L327.39,185.50 L327.65,186.17 L327.91,186.83 L328.16,187.49 L328.41,188.15 L328.66,188.82 L328.91,189.48 L329.16,190.15 L329.41,190.81 L329.65,191.48 L329.89,192.14 L330.13,192.81 L330.37,193.48 L330.61,194.15 L330.84,194.82 L331.07,195.49 L331.31,196.16 L331.54,196.83 L331.77,197.50 L331.99,198.17 L332.22,198.84 L332.44,199.52 L332.67,200.19 L332.89,200.87 L333.11,201.54 L333.33,202.22 L333.55,202.89 L333.77,203.57 L333.99,204.25 L334.21,204.93 L334.42,205.61 L334.64,206.29 L334.85,206.97 L335.07,207.65 L335.28,208.33 L335.49,209.01 L335.71,209.69 L335.92,210.37 L336.13,211.06 L336.34,211.74 L336.55,212.43 L336.76,213.11 L336.97,213.80 L337.18,214.49 L337.39,215.17 L337.60,215.86 L337.81,216.55 L338.02,217.24 L338.23,217.93 L338.44,218.62 L338.65,219.31 L338.86,220.00 L339.07,220.69 L339.28,221.39 L339.49,222.08 L339.70,222.77 L339.91,223.47 L340.13,224.16 L340.34,224.86 L340.55,225.55 L340.77,226.25 L340.98,226.95 L341.20,227.65 L341.41,228.34 L341.63,229.04 L341.85,229.74 L342.06,230.44 L342.28,231.14 L342.50,231.84 L342.73,232.55 L342.95,233.25" fill="none" stroke="#800080" stroke-width="1.55"/>
<path d="M109.80,226.80 L109.80,144.00 L121.60,144.00 L121.60,144.00 L133.40,144.00 L133.40,144.00 L145.20,144.00 L145.20,131.54 L157.00,131.54 L157.00,115.06 L168.80,115.06 L168.80,124.25 L180.60,124.25 L180.60,102.60 L192.40,102.60 L192.40,104.49 L204.20,104.49 L204.20,80.08 L216.00,80.08 L216.00,73.66 L227.80,73.66 L227.80,71.95 L239.60,71.95 L239.60,66.37 L251.40,66.37 L251.40,67.11 L263.20,67.11 L263.20,67.36 L275.00,67.36 L275.00,74.03 L286.80,74.03 L286.80,87.62 L298.60,87.62 L298.60,96.55 L310.40,96.55 L310.40,119.07 L322.20,119.07 L322.20,144.00 L334.00,144.00 L334.00,226.80" fill="none" stroke="#000" stroke-width="1.5" stroke-linejoin="miter"/>
<path d="M115.70,122.41 L115.70,175.70 M113.70,122.41 L117.70,122.41 M113.70,175.70 L117.70,175.70 M127.50,122.41 L127.50,175.70 M125.50,122.41 L129.50,122.41 M125.50,175.70 L129.50,175.70 M139.30,122.41 L139.30,175.70 M137.30,122.41 L141.30,122.41 M137.30,175.70 L141.30,175.70 M151.10,116.34 L151.10,150.11 M149.10,116.34 L153.10,116.34 M149.10,150.11 L153.10,150.11 M162.90,105.74 L162.90,125.20 M160.90,105.74 L164.90,105.74 M160.90,125.20 L164.90,125.20 M174.70,111.98 L174.70,138.31 M172.70,111.98 L176.70,111.98 M172.70,138.31 L176.70,138.31 M186.50,96.20 L186.50,109.28 M184.50,96.20 L188.50,96.20 M184.50,109.28 L188.50,109.28 M198.30,97.71 L198.30,111.60 M196.30,97.71 L200.30,97.71 M196.30,111.60 L200.30,111.60 M210.10,76.81 L210.10,83.39 M208.10,76.81 L212.10,76.81 M208.10,83.39 L212.10,83.39 M221.90,70.96 L221.90,76.39 M219.90,70.96 L223.90,70.96 M219.90,76.39 L223.90,76.39 M233.70,69.37 L233.70,74.54 M231.70,69.37 L235.70,69.37 M231.70,74.54 L235.70,74.54 M245.50,64.18 L245.50,68.57 M243.50,64.18 L247.50,64.18 M243.50,68.57 L247.50,68.57 M257.30,64.87 L257.30,69.35 M255.30,64.87 L259.30,64.87 M255.30,69.35 L259.30,69.35 M269.10,65.11 L269.10,69.62 M267.10,65.11 L271.10,65.11 M267.10,69.62 L271.10,69.62 M280.90,71.29 L280.90,76.79 M278.90,71.29 L282.90,71.29 M278.90,76.79 L282.90,76.79 M292.70,83.54 L292.70,91.79 M290.70,83.54 L294.70,83.54 M290.70,91.79 L294.70,91.79 M304.50,91.21 L304.50,102.06 M302.50,91.21 L306.50,91.21 M302.50,102.06 L306.50,102.06 M316.30,108.56 L316.30,130.74 M314.30,108.56 L318.30,108.56 M314.30,130.74 L318.30,130.74 M328.10,122.41 L328.10,175.70 M326.10,122.41 L330.10,122.41 M326.10,175.70 L330.10,175.70 " fill="none" stroke="#000" stroke-width="1.2"/>
</g>
<rect x="62.15" y="41.5" width="287.10" height="185.30" fill="none" stroke="#000" stroke-width="1.8"/>
<path d="M62.10,226.80 L62.10,223.60 M62.10,41.50 L62.10,44.70 M86.97,226.80 L86.97,224.90 M86.97,41.50 L86.97,43.40 M101.51,226.80 L101.51,224.90 M101.51,41.50 L101.51,43.40 M111.83,226.80 L111.83,224.90 M111.83,41.50 L111.83,43.40 M119.83,226.80 L119.83,224.90 M119.83,41.50 L119.83,43.40 M126.38,226.80 L126.38,224.90 M126.38,41.50 L126.38,43.40 M131.91,226.80 L131.91,224.90 M131.91,41.50 L131.91,43.40 M136.70,226.80 L136.70,224.90 M136.70,41.50 L136.70,43.40 M140.92,226.80 L140.92,224.90 M140.92,41.50 L140.92,43.40 M144.70,226.80 L144.70,223.60 M144.70,41.50 L144.70,44.70 M169.57,226.80 L169.57,224.90 M169.57,41.50 L169.57,43.40 M184.11,226.80 L184.11,224.90 M184.11,41.50 L184.11,43.40 M194.43,226.80 L194.43,224.90 M194.43,41.50 L194.43,43.40 M202.43,226.80 L202.43,224.90 M202.43,41.50 L202.43,43.40 M208.98,226.80 L208.98,224.90 M208.98,41.50 L208.98,43.40 M214.51,226.80 L214.51,224.90 M214.51,41.50 L214.51,43.40 M219.30,226.80 L219.30,224.90 M219.30,41.50 L219.30,43.40 M223.52,226.80 L223.52,224.90 M223.52,41.50 L223.52,43.40 M227.30,226.80 L227.30,223.60 M227.30,41.50 L227.30,44.70 M252.17,226.80 L252.17,224.90 M252.17,41.50 L252.17,43.40 M266.71,226.80 L266.71,224.90 M266.71,41.50 L266.71,43.40 M277.03,226.80 L277.03,224.90 M277.03,41.50 L277.03,43.40 M285.03,226.80 L285.03,224.90 M285.03,41.50 L285.03,43.40 M291.58,226.80 L291.58,224.90 M291.58,41.50 L291.58,43.40 M297.11,226.80 L297.11,224.90 M297.11,41.50 L297.11,43.40 M301.90,226.80 L301.90,224.90 M301.90,41.50 L301.90,43.40 M306.12,226.80 L306.12,224.90 M306.12,41.50 L306.12,43.40 M309.90,226.80 L309.90,223.60 M309.90,41.50 L309.90,44.70 M334.77,226.80 L334.77,224.90 M334.77,41.50 L334.77,43.40 M349.31,226.80 L349.31,224.90 M349.31,41.50 L349.31,43.40 M62.15,226.80 L65.35,226.80 M349.25,226.80 L346.05,226.80 M62.15,214.34 L64.05,214.34 M349.25,214.34 L347.35,214.34 M62.15,207.05 L64.05,207.05 M349.25,207.05 L347.35,207.05 M62.15,201.87 L64.05,201.87 M349.25,201.87 L347.35,201.87 M62.15,197.86 L64.05,197.86 M349.25,197.86 L347.35,197.86 M62.15,194.58 L64.05,194.58 M349.25,194.58 L347.35,194.58 M62.15,191.81 L64.05,191.81 M349.25,191.81 L347.35,191.81 M62.15,189.41 L64.05,189.41 M349.25,189.41 L347.35,189.41 M62.15,187.29 L64.05,187.29 M349.25,187.29 L347.35,187.29 M62.15,185.40 L65.35,185.40 M349.25,185.40 L346.05,185.40 M62.15,172.94 L64.05,172.94 M349.25,172.94 L347.35,172.94 M62.15,165.65 L64.05,165.65 M349.25,165.65 L347.35,165.65 M62.15,160.47 L64.05,160.47 M349.25,160.47 L347.35,160.47 M62.15,156.46 L64.05,156.46 M349.25,156.46 L347.35,156.46 M62.15,153.18 L64.05,153.18 M349.25,153.18 L347.35,153.18 M62.15,150.41 L64.05,150.41 M349.25,150.41 L347.35,150.41 M62.15,148.01 L64.05,148.01 M349.25,148.01 L347.35,148.01 M62.15,145.89 L64.05,145.89 M349.25,145.89 L347.35,145.89 M62.15,144.00 L65.35,144.00 M349.25,144.00 L346.05,144.00 M62.15,131.54 L64.05,131.54 M349.25,131.54 L347.35,131.54 M62.15,124.25 L64.05,124.25 M349.25,124.25 L347.35,124.25 M62.15,119.07 L64.05,119.07 M349.25,119.07 L347.35,119.07 M62.15,115.06 L64.05,115.06 M349.25,115.06 L347.35,115.06 M62.15,111.78 L64.05,111.78 M349.25,111.78 L347.35,111.78 M62.15,109.01 L64.05,109.01 M349.25,109.01 L347.35,109.01 M62.15,106.61 L64.05,106.61 M349.25,106.61 L347.35,106.61 M62.15,104.49 L64.05,104.49 M349.25,104.49 L347.35,104.49 M62.15,102.60 L65.35,102.60 M349.25,102.60 L346.05,102.60 M62.15,90.14 L64.05,90.14 M349.25,90.14 L347.35,90.14 M62.15,82.85 L64.05,82.85 M349.25,82.85 L347.35,82.85 M62.15,77.67 L64.05,77.67 M349.25,77.67 L347.35,77.67 M62.15,73.66 L64.05,73.66 M349.25,73.66 L347.35,73.66 M62.15,70.38 L64.05,70.38 M349.25,70.38 L347.35,70.38 M62.15,67.61 L64.05,67.61 M349.25,67.61 L347.35,67.61 M62.15,65.21 L64.05,65.21 M349.25,65.21 L347.35,65.21 M62.15,63.09 L64.05,63.09 M349.25,63.09 L347.35,63.09 M62.15,61.20 L65.35,61.20 M349.25,61.20 L346.05,61.20 M62.15,48.74 L64.05,48.74 M349.25,48.74 L347.35,48.74 M62.15,41.45 L64.05,41.45 M349.25,41.45 L347.35,41.45 " fill="none" stroke="#000" stroke-width="1"/>

<path d="M61.95,0.6 H349.25 V36.5 Q349.25,37.65 348.1,37.65 H63.1 Q61.95,37.65 61.95,36.5 Z" fill="#fff" stroke="#000" stroke-width="1.8"/>
<path d="M67,7.2 H84" stroke="#008000" stroke-width="2.5"/>
<path d="M67,18.3 H84" stroke="#0000ff" stroke-width="1.55"/>
<path d="M68.4,29 H83.5" stroke="#ff0000" stroke-width="1.55" stroke-dasharray="3.8,3.8"/>
<path d="M271.4,7.5 H286.2" stroke="#008000" stroke-width="1.5" stroke-dasharray="1.0,1.47"/>
<path d="M271.8,18.3 H287.5" stroke="#ff4500" stroke-width="1.4" stroke-dasharray="1.86,3.1,0.7,3.1"/>
<path d="M271.4,29.1 H287" stroke="#800080" stroke-width="1.55"/>
<text class="lg" x="89.8" y="10.2" textLength="37.6" lengthAdjust="spacingAndGlyphs">All Lenses</text>
<text class="lg" x="89.8" y="21.3" textLength="53.0" lengthAdjust="spacingAndGlyphs">Brown Dwarfs</text>
<text class="lg" x="89.8" y="32.3" textLength="53.8" lengthAdjust="spacingAndGlyphs">Main Sequence</text>
<text class="lg" x="293.2" y="10.2" textLength="51.8" lengthAdjust="spacingAndGlyphs">White Dwarfs</text>
<text class="lg" x="293.2" y="21.3" textLength="52.4" lengthAdjust="spacingAndGlyphs">Neutron Stars</text>
<text class="lg" x="293.2" y="32.3" textLength="43.7" lengthAdjust="spacingAndGlyphs">Black Holes</text>

<text x="50.15" y="241.00" class="tk" textLength="11.9" lengthAdjust="spacingAndGlyphs">10</text><rect x="63.55" y="234.90" width="5.8" height="0.9" fill="#000"/><text x="70.25" y="236.50" class="sp">1</text>
<text x="136.10" y="241.00" class="tk" textLength="11.9" lengthAdjust="spacingAndGlyphs">10</text><text x="149.50" y="236.50" class="sp">0</text>
<text x="218.70" y="241.00" class="tk" textLength="11.9" lengthAdjust="spacingAndGlyphs">10</text><text x="232.10" y="236.50" class="sp">1</text>
<text x="301.30" y="241.00" class="tk" textLength="11.9" lengthAdjust="spacingAndGlyphs">10</text><text x="314.70" y="236.50" class="sp">2</text>
<text x="33.40" y="230.10" class="tk" textLength="11.9" lengthAdjust="spacingAndGlyphs">10</text><rect x="46.80" y="224.00" width="5.8" height="0.9" fill="#000"/><text x="53.50" y="225.60" class="sp">2</text>
<text x="33.40" y="188.70" class="tk" textLength="11.9" lengthAdjust="spacingAndGlyphs">10</text><rect x="46.80" y="182.60" width="5.8" height="0.9" fill="#000"/><text x="53.50" y="184.20" class="sp">1</text>
<text x="40.10" y="147.30" class="tk" textLength="11.9" lengthAdjust="spacingAndGlyphs">10</text><text x="53.50" y="142.80" class="sp">0</text>
<text x="40.10" y="105.90" class="tk" textLength="11.9" lengthAdjust="spacingAndGlyphs">10</text><text x="53.50" y="101.40" class="sp">1</text>
<text x="40.10" y="64.50" class="tk" textLength="11.9" lengthAdjust="spacingAndGlyphs">10</text><text x="53.50" y="60.00" class="sp">2</text>

<g transform="translate(11.8,133.2) rotate(-90)">
<path d="M-10.5,0 H10.5" stroke="#000" stroke-width="1.2"/>
<text class="yl" x="-11.2" y="-3.4" textLength="22" lengthAdjust="spacingAndGlyphs">dN</text>
<text class="yl" x="-10.2" y="11.0" textLength="12.5" lengthAdjust="spacingAndGlyphs">dt</text>
<text class="yl" style="font-size:9.5px" x="3.9" y="13.5" textLength="6.5" lengthAdjust="spacingAndGlyphs">E</text>
</g>
<text class="yl xl" x="172.4" y="256.7" textLength="7.6" lengthAdjust="spacingAndGlyphs">t</text>
<text class="yl xsub" x="180.2" y="260.6" textLength="11.2" lengthAdjust="spacingAndGlyphs">E</text>
<path d="M202,244.6 H199.75 V260.6 H202" fill="none" stroke="#000" stroke-width="1.2"/>
<text class="xb" x="202.3" y="257.3" textLength="30.4" lengthAdjust="spacingAndGlyphs">day</text>
<path d="M233.4,244.6 H235.65 V260.6 H233.4" fill="none" stroke="#000" stroke-width="1.2"/>

</svg>
</body></html>
